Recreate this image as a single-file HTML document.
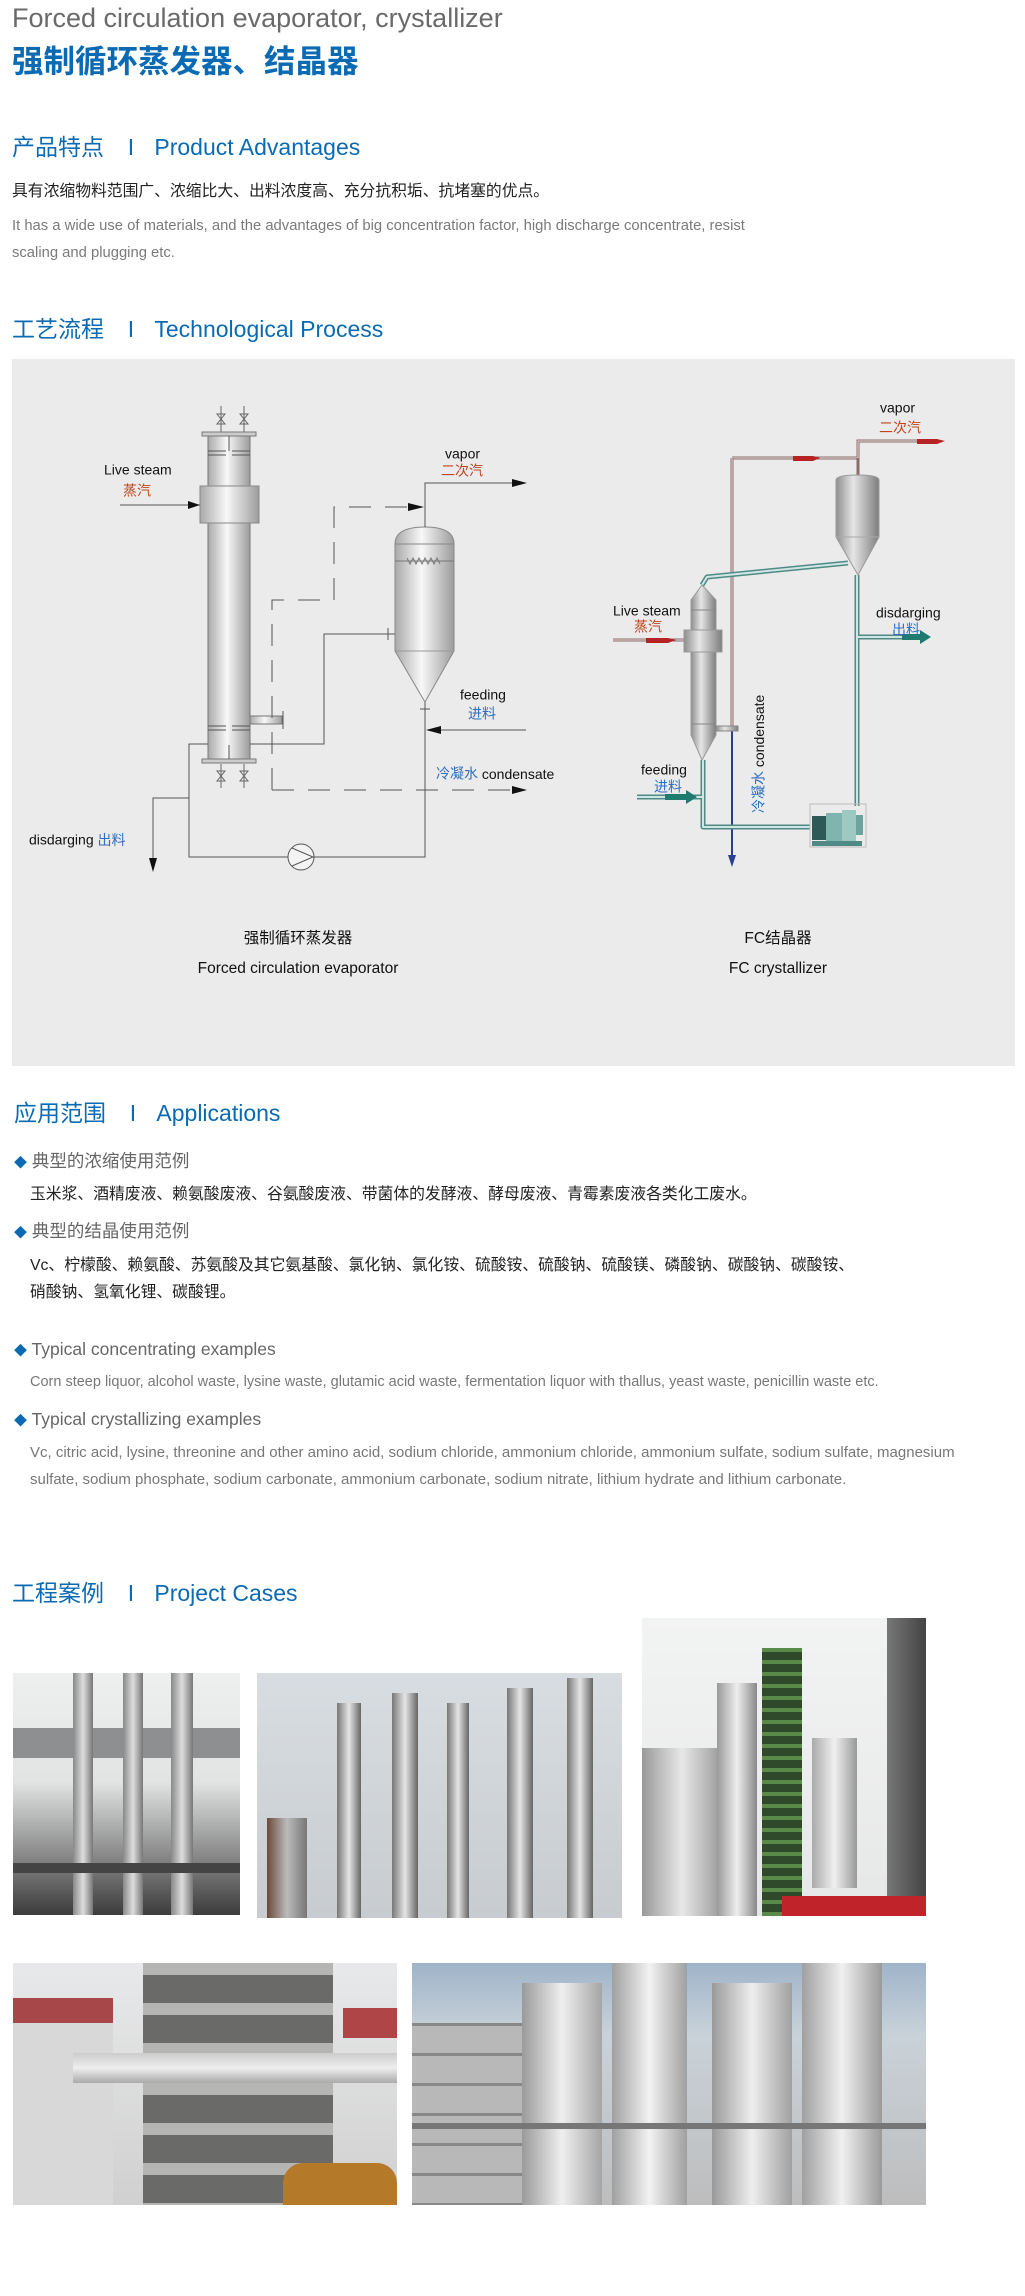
<!DOCTYPE html>
<html><head><meta charset="utf-8">
<style>
html,body{margin:0;padding:0;background:#fff;}
body{width:1025px;height:2296px;position:relative;overflow:hidden;font-family:"Liberation Sans","Noto Sans CJK SC",sans-serif;}
.t{position:absolute;white-space:nowrap;line-height:1;}
.h{color:#0b6ab4;font-size:23px;}
.bar{display:inline-block;width:34px;text-align:center;}
.ph{position:absolute;overflow:hidden;}
</style></head><body>

<div class="t" style="left:12px;top:5px;font-size:27px;color:#6a6a6a;">Forced circulation evaporator, crystallizer</div>
<div class="t" style="left:12px;top:46px;font-size:31.5px;color:#0b6ab4;font-weight:bold;">强制循环蒸发器、结晶器</div>

<div class="t h" style="left:12px;top:136px;">产品特点<span class="bar" style="margin-left:10px">I</span>&nbsp;Product Advantages</div>
<div class="t" style="left:12px;top:184px;font-size:15.8px;color:#222;">具有浓缩物料范围广、浓缩比大、出料浓度高、充分抗积垢、抗堵塞的优点。</div>
<div class="t" style="left:12px;top:219px;font-size:14.8px;color:#7a7a7a;">It has a wide use of materials, and the advantages of big concentration factor, high discharge concentrate, resist</div>
<div class="t" style="left:12px;top:246px;font-size:14.8px;color:#7a7a7a;">scaling and plugging etc.</div>

<div class="t h" style="left:12px;top:318px;">工艺流程<span class="bar" style="margin-left:10px">I</span>&nbsp;Technological Process</div>

<div style="position:absolute;left:12px;top:359px;width:1003px;height:707px;background:#ebebeb;"></div>

<svg style="position:absolute;left:0;top:0" width="1025" height="1070" viewBox="0 0 1025 1070">
<defs>
<linearGradient id="cyl" x1="0" x2="1" y1="0" y2="0">
<stop offset="0" stop-color="#a9a9a9"/><stop offset="0.45" stop-color="#f8f8f8"/><stop offset="1" stop-color="#9c9c9c"/>
</linearGradient>
<linearGradient id="cyl2" x1="0" x2="1" y1="0" y2="0">
<stop offset="0" stop-color="#8e8e8e"/><stop offset="0.4" stop-color="#e6e6e6"/><stop offset="1" stop-color="#7e7e7e"/>
</linearGradient>
</defs>
<g stroke="#666" stroke-width="1" fill="none">
  <line x1="221" y1="406" x2="221" y2="432"/><line x1="244" y1="406" x2="244" y2="432"/>
  <line x1="221" y1="764" x2="221" y2="788"/><line x1="244" y1="764" x2="244" y2="788"/>
  <path d="M217,414 L225,414 L217,424 L225,424 Z M240,414 L248,414 L240,424 L248,424 Z"/>
  <path d="M217,771 L225,771 L217,781 L225,781 Z M240,771 L248,771 L240,781 L248,781 Z"/>
</g>
<rect x="208" y="436" width="42" height="323" fill="url(#cyl)" stroke="#777"/>
<rect x="202" y="432" width="54" height="4" fill="#ccc" stroke="#777"/>
<rect x="202" y="759" width="54" height="4" fill="#ccc" stroke="#777"/>
<rect x="200" y="486" width="59" height="37" fill="url(#cyl)" stroke="#888"/>
<g stroke="#555" stroke-width="1">
  <line x1="208" y1="451" x2="226" y2="451"/><line x1="232" y1="451" x2="250" y2="451"/>
  <line x1="208" y1="455" x2="226" y2="455"/><line x1="232" y1="455" x2="250" y2="455"/>
  <line x1="229" y1="436" x2="229" y2="451"/>
  <line x1="208" y1="726" x2="226" y2="726"/><line x1="232" y1="726" x2="250" y2="726"/>
  <line x1="208" y1="730" x2="226" y2="730"/><line x1="232" y1="730" x2="250" y2="730"/>
  <line x1="229" y1="745" x2="229" y2="759"/>
</g>
<rect x="250" y="716" width="32" height="8" fill="url(#cyl)" stroke="#777"/>
<line x1="283" y1="711" x2="283" y2="729" stroke="#555"/>
<path d="M395,544 Q395,527 425,527 Q454,527 454,544 L454,651 L425,702 L395,651 Z" fill="url(#cyl)" stroke="#888"/>
<line x1="395" y1="544" x2="454" y2="544" stroke="#888"/>
<line x1="395" y1="561" x2="454" y2="561" stroke="#777"/>
<path d="M407,558 l3,6 l3,-6 l3,6 l3,-6 l3,6 l3,-6 l3,6 l3,-6 l3,6 l3,-6 l3,6" stroke="#777" fill="none"/>
<line x1="395" y1="651" x2="454" y2="651" stroke="#999"/>
<g stroke="#555" stroke-width="1" fill="none">
  <polyline points="425,527 425,483 520,483"/>
  <polyline points="120,505 200,505"/>
  <polyline points="250,744 324,744 324,634 395,634"/>
  <line x1="388" y1="628" x2="388" y2="640"/>
  <polyline points="425,702 425,857 314,857"/>
  <line x1="420" y1="709" x2="430" y2="709"/>
  <polyline points="288,857 189,857 189,744 208,744"/>
  <polyline points="189,798 153,798 153,866"/>
  <line x1="526" y1="730" x2="430" y2="730"/>
  <circle cx="301" cy="857" r="13" fill="#f4f4f4"/>
  <path d="M292,848 L313,857 L292,866"/>
  <g stroke-dasharray="22,14">
    <polyline points="272,790 272,600 334,600 334,507 418,507"/>
    <polyline points="272,790 520,790"/>
  </g>
</g>
<g fill="#111">
  <polygon points="200,505 188,501 188,509"/>
  <polygon points="527,483 512,479 512,487"/>
  <polygon points="424,507 408,503 408,511"/>
  <polygon points="527,790 512,786 512,794"/>
  <polygon points="426,730 441,726 441,734"/>
  <polygon points="153,872 149,858 157,858"/>
</g>
<g font-family="Liberation Sans, Noto Sans CJK SC, sans-serif" font-size="14" dominant-baseline="middle">
  <text x="104" y="471" fill="#111">Live steam</text>
  <text x="123" y="492" fill="#c0441e">蒸汽</text>
  <text x="445" y="455" fill="#111">vapor</text>
  <text x="441" y="472" fill="#c0441e">二次汽</text>
  <text x="460" y="696" fill="#111">feeding</text>
  <text x="468" y="715" fill="#2d6fc0">进料</text>
  <text x="436" y="775" fill="#2d6fc0">冷凝水 <tspan fill="#111">condensate</tspan></text>
  <text x="29" y="841" fill="#111">disdarging <tspan fill="#2d6fc0">出料</tspan></text>
  <text x="298" y="939" fill="#111" text-anchor="middle" font-size="15.5">强制循环蒸发器</text>
  <text x="298" y="969" fill="#111" text-anchor="middle" font-size="15.5">Forced circulation evaporator</text>
  <text x="778" y="939" fill="#111" text-anchor="middle" font-size="15.5">FC结晶器</text>
  <text x="778" y="969" fill="#111" text-anchor="middle" font-size="15.5">FC crystallizer</text>
</g>

<g fill="none">
  <polyline points="732,458 858,458 858,441 935,441" stroke="#8c6b6b" stroke-width="3"/>
  <polyline points="732,458 858,458 858,441 935,441" stroke="#eadede" stroke-width="1"/>
  <line x1="858" y1="458" x2="858" y2="476" stroke="#8c6b6b" stroke-width="3"/>
  <line x1="732" y1="458" x2="732" y2="728" stroke="#8c6b6b" stroke-width="3"/>
  <line x1="732" y1="458" x2="732" y2="728" stroke="#eadede" stroke-width="1"/>
  <line x1="732" y1="728" x2="732" y2="860" stroke="#2c3f8f" stroke-width="2"/>
  <line x1="613" y1="640" x2="684" y2="640" stroke="#8c6b6b" stroke-width="3"/>
  <line x1="613" y1="640" x2="684" y2="640" stroke="#eadede" stroke-width="1"/>
  <g stroke="#4f8a86" stroke-width="5" stroke-linejoin="round">
    <polyline points="848,563 707,577 702,585"/>
    <polyline points="857,575 857,806"/>
    <polyline points="857,637 905,637"/>
    <polyline points="703,760 703,827 810,827"/>
    <polyline points="637,797 703,797"/>
  </g>
  <g stroke="#cfe6e2" stroke-width="2" stroke-linejoin="round">
    <polyline points="848,563 707,577 702,585"/>
    <polyline points="857,575 857,806"/>
    <polyline points="857,637 905,637"/>
    <polyline points="703,760 703,827 810,827"/>
    <polyline points="637,797 703,797"/>
  </g>
</g>
<g>
  <polygon points="793,456 813,456 820,458 813,461 793,461" fill="#b52323"/>
  <polygon points="917,439 937,439 945,441 937,444 917,444" fill="#b52323"/>
  <polygon points="646,638 668,638 676,640 668,643 646,643" fill="#b52323"/>
  <polygon points="665,794 686,794 686,790 697,797 686,804 686,800 665,800" fill="#1f7a70"/>
  <polygon points="902,634 920,634 920,630 931,637 920,644 920,640 902,640" fill="#1f7a70"/>
  <polygon points="732,867 728,855 736,855" fill="#2c3f8f"/>
</g>
<path d="M836,480 Q836,475 858,475 Q879,475 879,480 L879,537 L858,575 L836,537 Z" fill="url(#cyl2)" stroke="#999"/>
<line x1="836" y1="537" x2="879" y2="537" stroke="#aaa"/>
<path d="M702,585 L716,600 L716,735 L702,760 L691,735 L691,600 Z" fill="url(#cyl2)" stroke="#999"/>
<line x1="691" y1="610" x2="716" y2="610" stroke="#888"/><line x1="691" y1="724" x2="716" y2="724" stroke="#888"/>
<rect x="684" y="630" width="38" height="22" fill="url(#cyl2)" stroke="#999"/>
<rect x="716" y="726" width="22" height="5" fill="url(#cyl2)" stroke="#888"/>
<rect x="810" y="804" width="56" height="43" fill="none" stroke="#bbb"/>
<rect x="812" y="816" width="14" height="24" fill="#2d5a58"/>
<rect x="826" y="813" width="16" height="28" fill="#7fb5ae"/>
<rect x="842" y="810" width="14" height="32" fill="#9ccac3"/>
<rect x="856" y="815" width="7" height="20" fill="#6fa39d"/>
<rect x="812" y="841" width="50" height="5" fill="#4f8a86"/>
<g font-family="Liberation Sans, Noto Sans CJK SC, sans-serif" font-size="14" dominant-baseline="middle">
  <text x="880" y="409" fill="#111">vapor</text>
  <text x="879" y="429" fill="#c0441e">二次汽</text>
  <text x="613" y="612" fill="#111">Live steam</text>
  <text x="634" y="628" fill="#c0441e">蒸汽</text>
  <text x="876" y="614" fill="#111">disdarging</text>
  <text x="892" y="631" fill="#2d6fc0">出料</text>
  <text x="641" y="771" fill="#111">feeding</text>
  <text x="654" y="788" fill="#2d6fc0">进料</text>
  <text transform="translate(760,813) rotate(-90)" x="0" y="0" fill="#2d6fc0">冷凝水 <tspan fill="#111">condensate</tspan></text>
</g>
</svg>

<div class="t h" style="left:14px;top:1102px;">应用范围<span class="bar" style="margin-left:10px">I</span>&nbsp;Applications</div>
<div class="t" style="left:14px;top:1153px;font-size:17.5px;color:#666;"><span style="color:#0b6ab4;font-size:13px;">◆</span> 典型的浓缩使用范例</div>
<div class="t" style="left:30px;top:1187px;font-size:15.8px;color:#222;">玉米浆、酒精废液、赖氨酸废液、谷氨酸废液、带菌体的发酵液、酵母废液、青霉素废液各类化工废水。</div>
<div class="t" style="left:14px;top:1223px;font-size:17.5px;color:#666;"><span style="color:#0b6ab4;font-size:13px;">◆</span> 典型的结晶使用范例</div>
<div class="t" style="left:30px;top:1258px;font-size:15.8px;color:#222;">Vc、柠檬酸、赖氨酸、苏氨酸及其它氨基酸、氯化钠、氯化铵、硫酸铵、硫酸钠、硫酸镁、磷酸钠、碳酸钠、碳酸铵、</div>
<div class="t" style="left:30px;top:1285px;font-size:15.8px;color:#222;">硝酸钠、氢氧化锂、碳酸锂。</div>
<div class="t" style="left:14px;top:1341px;font-size:17.5px;color:#666;"><span style="color:#0b6ab4;font-size:13px;">◆</span> Typical concentrating examples</div>
<div class="t" style="left:30px;top:1375px;font-size:14.5px;color:#777;">Corn steep liquor, alcohol waste, lysine waste, glutamic acid waste, fermentation liquor with thallus, yeast waste, penicillin waste etc.</div>
<div class="t" style="left:14px;top:1411px;font-size:17.5px;color:#666;"><span style="color:#0b6ab4;font-size:13px;">◆</span> Typical crystallizing examples</div>
<div class="t" style="left:30px;top:1445px;font-size:15px;color:#777;">Vc, citric acid, lysine, threonine and other amino acid, sodium chloride, ammonium chloride, ammonium sulfate, sodium sulfate, magnesium</div>
<div class="t" style="left:30px;top:1472px;font-size:15px;color:#777;">sulfate, sodium phosphate, sodium carbonate, ammonium carbonate, sodium nitrate, lithium hydrate and lithium carbonate.</div>

<div class="t h" style="left:12px;top:1582px;">工程案例<span class="bar" style="margin-left:10px">I</span>&nbsp;Project Cases</div>

<div class="ph" style="left:13px;top:1673px;width:227px;height:242px;background:linear-gradient(180deg,#eef0f0 0%,#e2e4e4 45%,#8a8a8a 75%,#3c3c3c 100%);">
  <div style="position:absolute;left:0;top:55px;width:227px;height:30px;background:#8d8f90;"></div>
  <div style="position:absolute;left:60px;top:0;width:20px;height:242px;background:linear-gradient(90deg,#888,#ddd,#777);"></div>
  <div style="position:absolute;left:110px;top:0;width:20px;height:242px;background:linear-gradient(90deg,#888,#ddd,#777);"></div>
  <div style="position:absolute;left:158px;top:0;width:22px;height:242px;background:linear-gradient(90deg,#888,#ddd,#777);"></div>
  <div style="position:absolute;left:0;top:190px;width:227px;height:10px;background:#444;"></div>
</div>
<div class="ph" style="left:257px;top:1673px;width:365px;height:245px;background:linear-gradient(180deg,#d8dde2,#c8ccd0);">
  <div style="position:absolute;left:80px;top:30px;width:24px;height:215px;background:linear-gradient(90deg,#777,#e5e5e5,#666);"></div>
  <div style="position:absolute;left:135px;top:20px;width:26px;height:225px;background:linear-gradient(90deg,#777,#e5e5e5,#666);"></div>
  <div style="position:absolute;left:190px;top:30px;width:22px;height:215px;background:linear-gradient(90deg,#777,#e5e5e5,#666);"></div>
  <div style="position:absolute;left:250px;top:15px;width:26px;height:230px;background:linear-gradient(90deg,#777,#e5e5e5,#666);"></div>
  <div style="position:absolute;left:310px;top:5px;width:26px;height:240px;background:linear-gradient(90deg,#777,#e5e5e5,#666);"></div>
  <div style="position:absolute;left:10px;top:145px;width:40px;height:100px;background:linear-gradient(90deg,#6b4a3a,#bbb,#777);"></div>
</div>
<div class="ph" style="left:642px;top:1618px;width:284px;height:298px;background:linear-gradient(180deg,#f2f3f3,#e6e7e7);">
  <div style="position:absolute;left:0;top:130px;width:80px;height:168px;background:linear-gradient(90deg,#999,#e8e8e8,#999);"></div>
  <div style="position:absolute;left:75px;top:65px;width:40px;height:233px;background:linear-gradient(90deg,#999,#eee,#888);"></div>
  <div style="position:absolute;left:120px;top:30px;width:40px;height:268px;background:repeating-linear-gradient(180deg,#5a8a4a 0 4px,#2e4a2a 4px 12px);"></div>
  <div style="position:absolute;left:170px;top:120px;width:45px;height:150px;background:linear-gradient(90deg,#aaa,#f0f0f0,#999);"></div>
  <div style="position:absolute;left:245px;top:0;width:39px;height:298px;background:linear-gradient(90deg,#777,#444);"></div>
  <div style="position:absolute;left:140px;top:278px;width:144px;height:20px;background:#c0242a;"></div>
</div>
<div class="ph" style="left:13px;top:1963px;width:384px;height:242px;background:linear-gradient(180deg,#e8e9ea,#d0d0d0);">
  <div style="position:absolute;left:0;top:35px;width:100px;height:207px;background:#d8d8d8;"></div>
  <div style="position:absolute;left:0;top:35px;width:100px;height:25px;background:#a8474a;"></div>
  <div style="position:absolute;left:130px;top:0;width:190px;height:242px;background:repeating-linear-gradient(180deg,#b5b5b3 0 12px,#6a6a68 12px 40px);"></div>
  <div style="position:absolute;left:330px;top:45px;width:54px;height:30px;background:#b04548;"></div>
  <div style="position:absolute;left:60px;top:90px;width:324px;height:30px;background:linear-gradient(180deg,#ccc,#eee,#aaa);"></div>
  <div style="position:absolute;left:270px;top:200px;width:114px;height:42px;background:#b47a2a;border-radius:20px 20px 0 0;"></div>
</div>
<div class="ph" style="left:412px;top:1963px;width:514px;height:242px;background:linear-gradient(180deg,#9fb4c9 0%,#c9d2d9 30%,#bdbdbd 100%);">
  <div style="position:absolute;left:110px;top:20px;width:80px;height:222px;background:linear-gradient(90deg,#9a9a9a,#efefef,#a5a5a5);"></div>
  <div style="position:absolute;left:200px;top:0;width:75px;height:242px;background:linear-gradient(90deg,#a0a0a0,#f2f2f2,#a0a0a0);"></div>
  <div style="position:absolute;left:300px;top:20px;width:80px;height:222px;background:linear-gradient(90deg,#9a9a9a,#eee,#a0a0a0);"></div>
  <div style="position:absolute;left:390px;top:0;width:80px;height:242px;background:linear-gradient(90deg,#a0a0a0,#f0f0f0,#9a9a9a);"></div>
  <div style="position:absolute;left:0;top:60px;width:110px;height:182px;background:repeating-linear-gradient(180deg,#888 0 3px,#b8b8b8 3px 30px);"></div>
  <div style="position:absolute;left:0;top:160px;width:514px;height:6px;background:#777;"></div>
</div>
</body></html>
